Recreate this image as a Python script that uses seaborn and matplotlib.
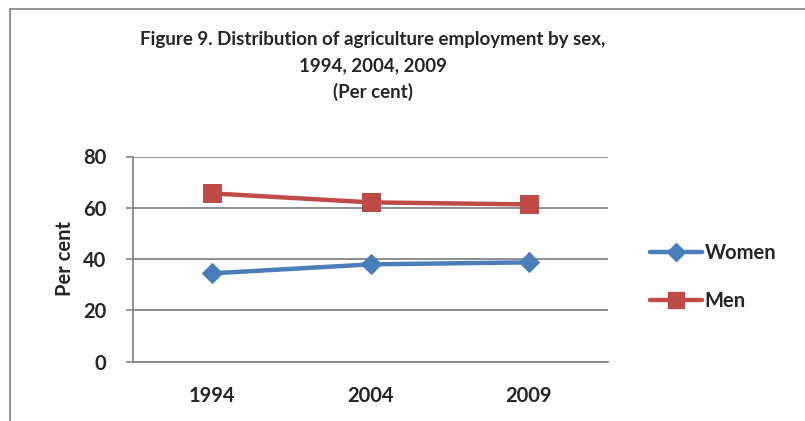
import matplotlib
matplotlib.use("Agg")
import matplotlib.pyplot as plt
from matplotlib.lines import Line2D
import seaborn as sns
import pandas as pd

years = ["1994", "2004", "2009"]
women = [34.4, 37.9, 38.7]
men = [65.6, 62.1, 61.3]
series_names = ["Women", "Men"]
y_ticks = [0, 20, 40, 60, 80]

df = pd.DataFrame({
    "year": years * 2,
    "value": women + men,
    "sex": [series_names[0]] * len(years) + [series_names[1]] * len(years),
})

sns.set_theme(style="white")
plt.rcParams["font.family"] = ["Lato", "DejaVu Sans"]
plt.rcParams["font.weight"] = "bold"

W, H = 805, 421
fig = plt.figure(figsize=(W / 100, H / 100), dpi=100)
ax = fig.add_axes([133 / W, 1 - 361.5 / H, (608 - 133) / W, (361.5 - 156.5) / H])

palette = {"Women": "#4A7EBB", "Men": "#BE4B48"}
markers = {"Women": "D", "Men": "s"}
sns.lineplot(data=df, x="year", y="value", hue="sex", style="sex",
             palette=palette, markers=markers, dashes=False, sort=False,
             linewidth=3.2, ax=ax, legend=False)
for line, key in zip(ax.lines, series_names):
    line.set_markersize(10 if key == "Women" else 13)
    line.set_markeredgecolor(palette[key])
    line.set_markerfacecolor(palette[key])

ax.set_xlim(-0.5, 2.5)
ax.set_ylim(0, 80)
ax.set_yticks(y_ticks)
ax.set_yticklabels([str(t) for t in y_ticks], fontsize=14.5, fontweight="bold")
ax.set_xticks(range(len(years)))
ax.set_xticklabels(years, fontsize=14.5, fontweight="bold")
ax.tick_params(axis="y", length=5, width=1.2, color="#868686", pad=14, direction="out", left=True)
ax.tick_params(axis="x", length=0, pad=18)
ax.set_xlabel("")
ax.set_ylabel("Per cent", fontsize=14.5, fontweight="bold", labelpad=6)

ax.grid(axis="y", color="#868686", linewidth=1.3)
ax.set_axisbelow(True)
for side in ["top", "right"]:
    ax.spines[side].set_visible(False)
for side in ["left", "bottom"]:
    ax.spines[side].set_color("#868686")
    ax.spines[side].set_linewidth(1.3)

title_lines = ["Figure 9. Distribution of agriculture employment by sex,",
               "1994, 2004, 2009", "(Per cent)"]
for i, txt in enumerate(title_lines):
    fig.text(373 / W, 1 - (40 + 26 * i) / H, txt, ha="center", va="center",
             fontsize=13.5, fontweight="bold")

handles = [Line2D([], [], color=palette[k], marker=markers[k], linewidth=3.2,
                  markersize=9 if k == "Women" else 12,
                  markeredgecolor=palette[k]) for k in series_names]
fig.legend(handles, series_names, loc="center left",
           bbox_to_anchor=(642 / W, 1 - 277 / H), frameon=False,
           prop={"size": 14.5, "weight": "bold"}, handlelength=2.6,
           handletextpad=0.1, labelspacing=1.4, borderaxespad=0)

# chart frame (left and top edges)
frame_color = "#898989"
fig.add_artist(Line2D([10 / W, 10 / W], [0, 1 - 9 / H], transform=fig.transFigure,
                      color=frame_color, linewidth=1.3))
fig.add_artist(Line2D([10 / W, 1], [1 - 9 / H, 1 - 9 / H], transform=fig.transFigure,
                      color=frame_color, linewidth=1.3))

fig.savefig("out.png", dpi=100)
